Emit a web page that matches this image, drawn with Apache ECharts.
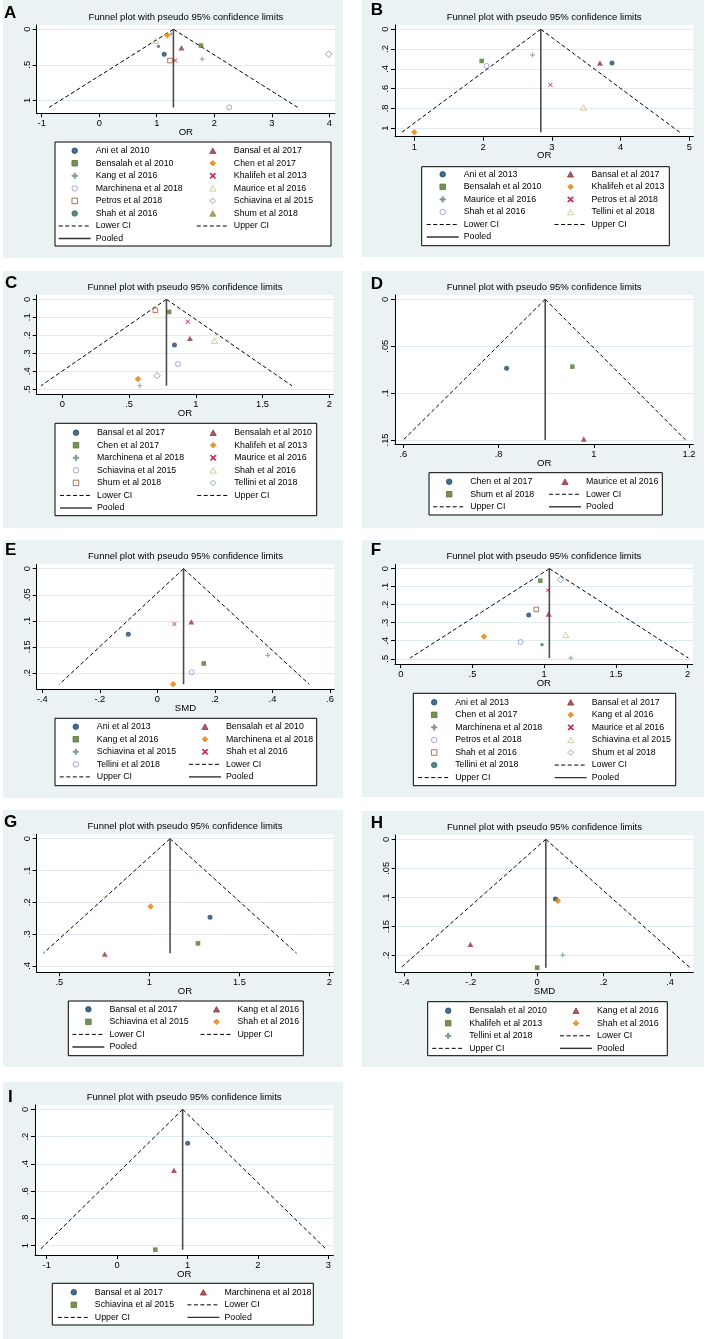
<!DOCTYPE html>
<html>
<head>
<meta charset="utf-8">
<script src="https://cdn.jsdelivr.net/npm/echarts@6/dist/echarts.min.js"></script>
<style>
body { margin: 0; background: #fff; width: 705px; height: 1339px; position: relative; overflow: hidden; }
.panel { position: absolute; }
</style>
</head>
<body>
<div id="A" class="panel"></div>
<div id="B" class="panel"></div>
<div id="C" class="panel"></div>
<div id="D" class="panel"></div>
<div id="E" class="panel"></div>
<div id="F" class="panel"></div>
<div id="G" class="panel"></div>
<div id="H" class="panel"></div>
<div id="I" class="panel"></div>
<script>
// ---- data: [effect, s.e.] per study, funnel lines ----
var studiesA = ['Ani et al 2010', 'Bansal et al 2017', 'Bensalah et al 2010', 'Chen et al 2017', 'Kang et al 2016', 'Khalifeh et al 2013',
  'Marchinena et al 2018', 'Maurice et al 2016', 'Petros et al 2018', 'Schiavina et al 2015', 'Shah et al 2016', 'Shum et al 2018'];
var pointsA = [[1.13, 0.35], [1.43, 0.26], [1.77, 0.23], [1.18, 0.085], [1.79, 0.42], [1.32, 0.44],
  [2.26, 1.10], [0.98, 0.16], [1.23, 0.44], [3.99, 0.35], [1.03, 0.24], [1.25, 0.06]];
var pooledA = [[1.29, 0], [1.29, 1.10]];
var lowerA = [[1.29, 0], [-0.87, 1.10]];
var upperA = [[1.29, 0], [3.45, 1.10]];
var xTicksA = [-1, 0, 1, 2, 3, 4];
var yTicksA = [0, 0.5, 1];

var studiesB = ['Ani et al 2013', 'Bansal et al 2017', 'Bensalah et al 2010', 'Khalifeh et al 2013', 'Maurice et al 2016', 'Petros et al 2018',
  'Shah et al 2016', 'Tellini et al 2018'];
var pointsB = [[3.875, 0.34], [3.70, 0.34], [1.98, 0.32], [1.00, 1.04], [2.72, 0.26], [2.98, 0.56], [2.05, 0.37], [3.46, 0.79]];
var pooledB = [[2.84, 0], [2.84, 1.04]];
var lowerB = [[2.84, 0], [0.82, 1.04]];
var upperB = [[2.84, 0], [4.86, 1.04]];
var xTicksB = [1, 2, 3, 4, 5];
var yTicksB = [0, 0.2, 0.4, 0.6, 0.8, 1];

var studiesC = ['Bansal et al 2017', 'Bensalah et al 2010', 'Chen et al 2017', 'Khalifeh et al 2013', 'Marchinena et al 2018', 'Maurice et al 2016',
  'Schiavina et al 2015', 'Shah et al 2016', 'Shum et al 2018', 'Tellini et al 2018'];
var pointsC = [[0.84, 0.254], [0.956, 0.217], [0.80, 0.07], [0.567, 0.443], [0.58, 0.48], [0.94, 0.124],
  [0.866, 0.36], [1.14, 0.23], [0.697, 0.061], [0.709, 0.424]];
var pooledC = [[0.78, 0], [0.78, 0.48]];
var lowerC = [[0.78, 0], [-0.16, 0.48]];
var upperC = [[0.78, 0], [1.72, 0.48]];
var xTicksC = [0, 0.5, 1, 1.5, 2];
var yTicksC = [0, 0.1, 0.2, 0.3, 0.4, 0.5];

var studiesD = ['Chen et al 2017', 'Maurice et al 2016', 'Shum et al 2018'];
var pointsD = [[0.817, 0.0736], [0.979, 0.149], [0.955, 0.0718]];
var pooledD = [[0.898, 0], [0.898, 0.15]];
var lowerD = [[0.898, 0], [0.60, 0.15]];
var upperD = [[0.898, 0], [1.193, 0.15]];
var xTicksD = [0.6, 0.8, 1, 1.2];
var yTicksD = [0, 0.05, 0.1, 0.15];

var studiesE = ['Ani et al 2013', 'Bensalah et al 2010', 'Kang et al 2016', 'Marchinena et al 2018', 'Schiavina et al 2015', 'Shah et al 2016',
  'Tellini et al 2018'];
var pointsE = [[-0.101, 0.126], [0.118, 0.102], [0.161, 0.182], [0.055, 0.222], [0.384, 0.166], [0.059, 0.106], [0.119, 0.199]];
var pooledE = [[0.091, 0], [0.091, 0.222]];
var lowerE = [[0.091, 0], [-0.341, 0.222]];
var upperE = [[0.091, 0], [0.528, 0.222]];
var xTicksE = [-0.4, -0.2, 0, 0.2, 0.4, 0.6];
var yTicksE = [0, 0.05, 0.1, 0.15, 0.2];

var studiesF = ['Ani et al 2013', 'Bansal et al 2017', 'Chen et al 2017', 'Kang et al 2016', 'Marchinena et al 2018', 'Maurice et al 2016',
  'Petros et al 2018', 'Schiavina et al 2015', 'Shah et al 2016', 'Shum et al 2018', 'Tellini et al 2018'];
var pointsF = [[0.892, 0.257], [1.031, 0.252], [0.973, 0.067], [0.58, 0.376], [1.185, 0.496], [1.027, 0.12],
  [0.836, 0.407], [1.15, 0.367], [0.945, 0.226], [1.115, 0.061], [0.985, 0.422]];
var pooledF = [[1.036, 0], [1.036, 0.496]];
var lowerF = [[1.036, 0], [0.065, 0.496]];
var upperF = [[1.036, 0], [2.005, 0.496]];
var xTicksF = [0, 0.5, 1, 1.5, 2];
var yTicksF = [0, 0.1, 0.2, 0.3, 0.4, 0.5];

var studiesG = ['Bansal et al 2017', 'Kang et al 2016', 'Schiavina et al 2015', 'Shah et al 2016'];
var pointsG = [[1.337, 0.247], [0.752, 0.363], [1.27, 0.329], [1.007, 0.213]];
var pooledG = [[1.115, 0], [1.115, 0.36]];
var lowerG = [[1.115, 0], [0.411, 0.36]];
var upperG = [[1.115, 0], [1.818, 0.36]];
var xTicksG = [0.5, 1, 1.5, 2];
var yTicksG = [0, 0.1, 0.2, 0.3, 0.4];

var studiesH = ['Bensalah et al 2010', 'Kang et al 2016', 'Khalifeh et al 2013', 'Shah et al 2016', 'Tellini et al 2018'];
var pointsH = [[0.055, 0.103], [-0.201, 0.181], [0.0, 0.221], [0.062, 0.106], [0.077, 0.199]];
var pooledH = [[0.026, 0], [0.026, 0.221]];
var lowerH = [[0.026, 0], [-0.41, 0.221]];
var upperH = [[0.026, 0], [0.46, 0.221]];
var xTicksH = [-0.4, -0.2, 0, 0.2, 0.4];
var yTicksH = [0, 0.05, 0.1, 0.15, 0.2];

var studiesI = ['Bansal et al 2017', 'Marchinena et al 2018', 'Schiavina et al 2015'];
var pointsI = [[1.002, 0.249], [0.808, 0.447], [0.543, 1.03]];
var pooledI = [[0.931, 0], [0.931, 1.03]];
var lowerI = [[0.931, 0], [-1.095, 1.03]];
var upperI = [[0.931, 0], [2.976, 1.03]];
var xTicksI = [-1, 0, 1, 2, 3];
var yTicksI = [0, 0.2, 0.4, 0.6, 0.8, 1];

var TITLE = 'Funnel plot with pseudo 95% confidence limits';
var LINE_NAMES = ['Lower CI', 'Upper CI', 'Pooled'];

// ---- layout (pixels inside each panel) ----
var layouts = {
  A: {box: [3, 0, 340, 258], grid: [33.7, 25, 298.3, 88.3], xr: [-1.087, 4.099], yr: [-0.06, 1.183], letter: [1, 13.5], legBox: [52, 142, 276, 104], legCols: [55, 193.3], legTop: 150.7},
  B: {box: [362, 0, 342, 257], grid: [33, 25, 298.3, 111.7], xr: [0.719, 5.058], yr: [-0.043, 1.085], letter: [8.7, 10.8], legBox: [59.7, 166.7, 247.6, 79], legCols: [64, 192], legTop: 174.3},
  C: {box: [3, 271, 340, 257], grid: [33.7, 24, 296.6, 99], xr: [-0.192, 2.03], yr: [-0.024, 0.526], letter: [2, 12.3], legBox: [52, 152.3, 261.7, 92.4], legCols: [56.3, 193.7], legTop: 161.7},
  D: {box: [362, 271, 342, 257], grid: [33, 24, 298.3, 149], xr: [0.5826, 1.209], yr: [-0.0046, 0.1543], letter: [8.7, 13], legBox: [67, 201.7, 233.3, 42.3], legCols: [70.7, 186.3], legTop: 210.7},
  E: {box: [3, 540, 340, 258], grid: [33.7, 24.3, 297.6, 124.7], xr: [-0.4195, 0.615], yr: [-0.0085, 0.231], letter: [2, 10.3], legBox: [52, 178.3, 261.7, 67.4], legCols: [56.3, 185.3], legTop: 186.7},
  F: {box: [362, 540, 342, 257], grid: [33, 24.3, 297.7, 99.7], xr: [-0.04, 2.035], yr: [-0.024, 0.529], letter: [8.7, 10], legBox: [51.3, 153.3, 262.4, 92.4], legCols: [55.7, 192], legTop: 162.3},
  G: {box: [3, 810, 340, 257], grid: [33.7, 24.3, 296.6, 138], xr: [0.374, 2.022], yr: [-0.0138, 0.42], letter: [1, 12.7], legBox: [65.3, 191, 235, 54.7], legCols: [68.7, 197], legTop: 199.3},
  H: {box: [362, 811, 342, 256], grid: [33.7, 24, 297.6, 137.3], xr: [-0.426, 0.470], yr: [-0.0074, 0.229], letter: [8.7, 12], legBox: [65.7, 190.7, 239.6, 54], legCols: [69.7, 197.3], legTop: 199.7},
  I: {box: [3, 1082, 340, 257], grid: [32, 23, 298.3, 150], xr: [-1.166, 3.071], yr: [-0.032, 1.069], letter: [5, 15], legBox: [49.3, 201.3, 261, 41.7], legCols: [54.3, 183.7], legTop: 210.3}
};

var FONT = '"Liberation Sans", Arial, sans-serif';
// stata s2color marker order
var colors = ['#1a476f', '#90353b', '#55752f', '#e37e00', '#6e8e84', '#c10534', '#938dd2', '#cac27e', '#a0522d', '#7b92a8', '#2d6d66', '#9c8847'];
// path symbols keep their aspect in the legend icons
var TRI = 'path://M5,0L10,9L0,9Z';
var SQUARE = 'path://M0,0L10,0L10,10L0,10Z';
var DIAMOND = 'path://M5,0L10,5L5,10L0,5Z';
var PLUS = 'path://M4,0L6,0L6,4L10,4L10,6L6,6L6,10L4,10L4,6L0,6L0,4L4,4Z';
var CROSS = 'path://M1.2,0L5,3.8L8.8,0L10,1.2L6.2,5L10,8.8L8.8,10L5,6.2L1.2,10L0,8.8L3.8,5L0,1.2Z';
var markers = [
  {symbol: 'circle', size: 5},
  {symbol: TRI, size: 6},
  {symbol: SQUARE, size: 4.6},
  {symbol: DIAMOND, size: 6.5},
  {symbol: PLUS, size: 5},
  {symbol: CROSS, size: 4.5},
  {symbol: 'circle', size: 5, hollow: true},
  {symbol: TRI, size: 6, hollow: true},
  {symbol: SQUARE, size: 4.6, hollow: true},
  {symbol: DIAMOND, size: 6.5, hollow: true},
  {symbol: 'circle', size: 3.3},
  {symbol: TRI, size: 4}
];

function stataNum(v) {
  var s = String(+(+v).toFixed(4));
  return s.replace(/^(-?)0\./, '$1.');
}

function lineSeries(name, data, style) {
  return {
    name: name, type: 'line', data: data, symbol: 'none', silent: true, z: 2,
    lineStyle: style, itemStyle: {opacity: 0}
  };
}

function legendCol(data, left, top) {
  return {
    data: data, orient: 'vertical', left: left, top: top, padding: 0,
    itemGap: 3.55, itemWidth: 32, itemHeight: 5.5, selectedMode: false, symbolKeepAspect: true,
    textStyle: {fontSize: 8.8, lineHeight: 9, color: '#000', fontFamily: FONT},
    itemStyle: {borderWidth: 1},
    lineStyle: {width: 1}
  };
}

function drawPanel(id, studies, points, pooled, lower, upper, xTicks, yTicks, xName) {
  var L = layouts[id];
  var el = document.getElementById(id);
  el.style.left = L.box[0] + 'px';
  el.style.top = L.box[1] + 'px';
  el.style.width = L.box[2] + 'px';
  el.style.height = L.box[3] + 'px';
  var chart = echarts.init(el);

  var series = studies.map(function (name, i) {
    var m = markers[i];
    return {
      name: name, type: 'scatter', data: [points[i]], z: 3,
      symbol: m.symbol, symbolSize: m.size, symbolKeepAspect: true,
      itemStyle: m.hollow
        ? {color: 'rgba(255,255,255,0)', borderColor: colors[i], borderWidth: 1}
        : {color: colors[i], borderColor: colors[i], borderWidth: 0}
    };
  });
  var dash = {color: '#000', width: 1, type: [4, 2.5]};
  series.push(lineSeries('Lower CI', lower, dash));
  series.push(lineSeries('Upper CI', upper, dash));
  series.push(lineSeries('Pooled', pooled, {color: '#4d4d4d', width: 1.6}));

  var legData = studies.concat(LINE_NAMES).map(function (n) {
    if (n === 'Pooled') return {name: n, itemStyle: {opacity: 0}, lineStyle: {width: 1.4, color: '#333'}};
    if (LINE_NAMES.indexOf(n) >= 0) return {name: n, itemStyle: {opacity: 0}};
    return {name: n};
  });
  var leftCol = legData.filter(function (d, i) { return i % 2 === 0; });
  var rightCol = legData.filter(function (d, i) { return i % 2 === 1; });

  var g = L.grid;
  var axisCommon = {
    type: 'value',
    axisLine: {show: true, onZero: false, lineStyle: {color: '#000', width: 1}},
    axisTick: {show: true, length: 4, lineStyle: {color: '#000', width: 1}},
    axisLabel: {color: '#000', fontSize: 9.3, fontFamily: FONT, formatter: stataNum}
  };

  chart.setOption({
    animation: false,
    backgroundColor: '#eaf2f3',
    grid: {left: g[0], top: g[1], width: g[2], height: g[3], show: true, backgroundColor: '#fff', borderWidth: 0},
    xAxis: echarts.util.merge({
      min: L.xr[0], max: L.xr[1],
      name: xName, nameLocation: 'middle', nameGap: 14, nameMoveOverlap: false,
      nameTextStyle: {color: '#000', fontSize: 9.6, fontFamily: FONT},
      axisTick: {customValues: xTicks},
      axisLabel: {customValues: xTicks, margin: 6},
      splitLine: {show: false}
    }, axisCommon),
    yAxis: echarts.util.merge({
      min: L.yr[0], max: L.yr[1], inverse: true,
      axisTick: {customValues: yTicks},
      axisLabel: {customValues: yTicks, rotate: 90, margin: 5},
      splitLine: {show: true, lineStyle: {color: '#e1eaee', width: 1}}
    }, axisCommon),
    legend: [
      legendCol(leftCol, L.legCols[0], L.legTop - 4.5),
      legendCol(rightCol, L.legCols[1], L.legTop - 4.5)
    ],
    graphic: [
      {type: 'rect', silent: true, z: 0,
        shape: {x: L.legBox[0], y: L.legBox[1], width: L.legBox[2], height: L.legBox[3]},
        style: {fill: '#fff', stroke: '#000', lineWidth: 1}},
      {type: 'text', silent: true, x: g[0] + g[2] / 2, y: g[1] - 7.9,
        style: {text: TITLE, font: '9.5px ' + FONT, fill: '#000', align: 'center', verticalAlign: 'middle', textAlign: 'center', textVerticalAlign: 'middle'}},
      {type: 'text', silent: true, x: L.letter[0], y: L.letter[1],
        style: {text: id, font: 'bold 17px ' + FONT, fill: '#000', align: 'left', verticalAlign: 'middle', textAlign: 'left', textVerticalAlign: 'middle'}}
    ],
    series: series
  });
}

drawPanel('A', studiesA, pointsA, pooledA, lowerA, upperA, xTicksA, yTicksA, 'OR');
drawPanel('B', studiesB, pointsB, pooledB, lowerB, upperB, xTicksB, yTicksB, 'OR');
drawPanel('C', studiesC, pointsC, pooledC, lowerC, upperC, xTicksC, yTicksC, 'OR');
drawPanel('D', studiesD, pointsD, pooledD, lowerD, upperD, xTicksD, yTicksD, 'OR');
drawPanel('E', studiesE, pointsE, pooledE, lowerE, upperE, xTicksE, yTicksE, 'SMD');
drawPanel('F', studiesF, pointsF, pooledF, lowerF, upperF, xTicksF, yTicksF, 'OR');
drawPanel('G', studiesG, pointsG, pooledG, lowerG, upperG, xTicksG, yTicksG, 'OR');
drawPanel('H', studiesH, pointsH, pooledH, lowerH, upperH, xTicksH, yTicksH, 'SMD');
drawPanel('I', studiesI, pointsI, pooledI, lowerI, upperI, xTicksI, yTicksI, 'OR');
</script>
</body>
</html>
